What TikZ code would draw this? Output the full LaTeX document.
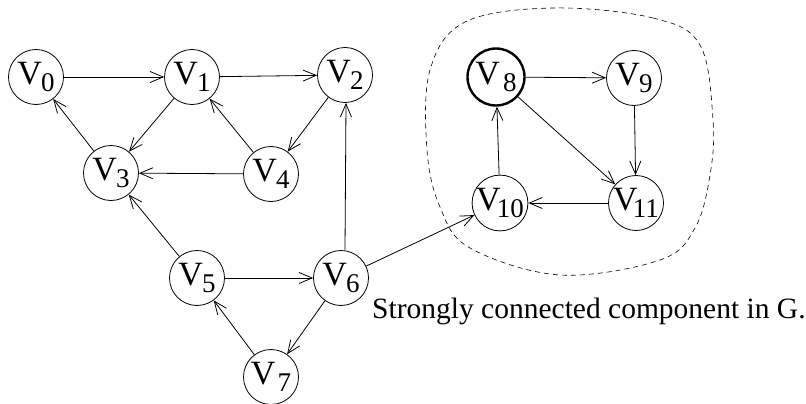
\documentclass[tikz,border=0pt]{standalone}
\usepackage{fontspec}
\setmainfont{Liberation Serif}
\newfontfamily\tms{Liberation Serif}
\usetikzlibrary{arrows.meta}
\newcommand{\vlab}[2]{\tms{\fontsize{34}{34}\selectfont V}\kern#2pt\raisebox{-7pt}{\fontsize{27}{27}\selectfont #1}}
\begin{document}
\begin{tikzpicture}[x=1pt,y=-1pt,
  vert/.style={draw,circle,minimum size=55pt,inner sep=0pt,line width=0.8pt},
  edge/.style={line width=0.8pt,-{Straight Barb[length=13pt,width=11pt,line width=0.8pt]}}]
\useasboundingbox (0,0) rectangle (806,404);
\node[vert] (v0) at (36,77) {\vlab{0}{-1}};
\node[vert] (v1) at (192,77) {\vlab{1}{-1}};
\node[vert] (v2) at (345,75) {\vlab{2}{-1}};
\node[vert] (v3) at (111,173) {\vlab{3}{-1}};
\node[vert] (v4) at (271,174) {\vlab{4}{-1}};
\node[vert] (v5) at (197,278) {\vlab{5}{-1}};
\node[vert] (v6) at (341,278) {\vlab{6}{-1}};
\node[vert] (v7) at (271,377) {\vlab{7}{2}};
\node[vert,line width=2.4pt,minimum size=57pt] (v8) at (496,77) {\vlab{8}{3}};
\node[vert] (v9) at (634,78) {\vlab{9}{-1}};
\node[vert] (v10) at (500,203) {\vlab{10}{-4}};
\node[vert] (v11) at (636,203) {\vlab{11}{-5}};
\draw[edge] (v0) -- (v1);
\draw[edge] (v1) -- (v2);
\draw[edge] (v1) -- (v3);
\draw[edge] (v2) -- (v4);
\draw[edge] (v4) -- (v1);
\draw[edge] (v4) -- (v3);
\draw[edge] (v3) -- (v0);
\draw[edge] (v5) -- (v3);
\draw[edge] (v5) -- (v6);
\draw[edge] ([xshift=4pt]v6.north) -- ([xshift=1pt]v2.south);
\draw[edge] (v6) -- (v7);
\draw[edge] (v7) -- (v5);
\draw[edge] (v6) -- (v10);
\draw[edge] (v8) -- (v9);
\draw[edge] (v8) -- (v11);
\draw[edge] (v9) -- (v11);
\draw[edge] (v11) -- (v10);
\draw[edge] (v10) -- (v8);
\draw[dashed,line width=0.6pt,dash pattern=on 5pt off 4pt] plot[smooth cycle,tension=0.6] coordinates {(553,8) (653,18) (700,45) (713,120) (710,175) (695,228) (660,260) (560,275) (470,248) (440,207) (427,150) (430,70) (465,22)};
\node[anchor=base west,font=\tms\fontsize{29.5}{30}\selectfont,inner sep=0pt] (cap) at (372,318) {Strongly connected component in G.};
\end{tikzpicture}
\end{document}
